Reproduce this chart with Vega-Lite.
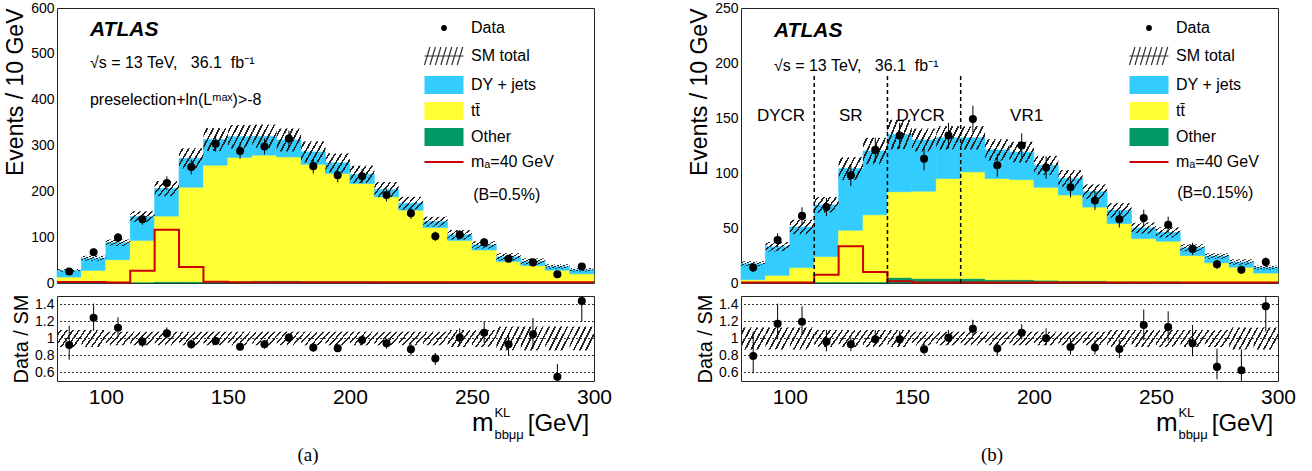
{
"$schema": "https://vega.github.io/schema/vega-lite/v6.json",
"padding": {"left": 4, "top": 0, "right": 5, "bottom": 2},
"config": {
  "font": "Liberation Sans",
  "view": {"stroke": "#222", "strokeWidth": 1},
  "axis": {"domain": false, "tickSize": 0, "grid": false, "minExtent": 0, "labelFont": "Liberation Sans", "titleFont": "Liberation Sans", "titleFontWeight": "normal", "labelColor": "#000", "titleColor": "#000", "tickColor": "#222", "labelOverlap": false, "labelFlush": false, "labelBound": false},
  "text": {"font": "Liberation Sans", "color": "#000"}
},
"datasets": {
  "stackA": [
    {"lo":80,"hi":90,"other":1,"tt":12,"dy":14.5},{"lo":90,"hi":100,"other":1,"tt":26.5,"dy":26.5},{"lo":100,"hi":110,"other":1,"tt":50,"dy":37},{"lo":110,"hi":120,"other":2,"tt":91,"dy":52},{"lo":120,"hi":130,"other":3,"tt":143,"dy":60},{"lo":130,"hi":140,"other":3,"tt":206,"dy":63},{"lo":140,"hi":150,"other":4,"tt":253,"dy":56},{"lo":150,"hi":160,"other":4,"tt":270,"dy":45},{"lo":160,"hi":170,"other":5,"tt":274,"dy":41},{"lo":170,"hi":180,"other":5,"tt":270,"dy":37},{"lo":180,"hi":190,"other":4,"tt":255,"dy":27},{"lo":190,"hi":200,"other":4,"tt":235,"dy":23},{"lo":200,"hi":210,"other":4,"tt":213,"dy":20},{"lo":210,"hi":220,"other":3,"tt":185,"dy":16},{"lo":220,"hi":230,"other":3,"tt":156,"dy":15},{"lo":230,"hi":240,"other":3,"tt":118,"dy":13},{"lo":240,"hi":250,"other":2,"tt":91,"dy":12},{"lo":250,"hi":260,"other":2,"tt":70,"dy":11},{"lo":260,"hi":270,"other":2,"tt":45,"dy":10},{"lo":270,"hi":280,"other":1,"tt":37,"dy":9},{"lo":280,"hi":290,"other":1,"tt":27,"dy":8},{"lo":290,"hi":300,"other":1,"tt":19,"dy":9}
  ],
  "stackB": [
    {"lo":80,"hi":90,"other":0.5,"tt":2.5,"dy":14.5},{"lo":90,"hi":100,"other":0.5,"tt":6.5,"dy":26},{"lo":100,"hi":110,"other":0.5,"tt":13.5,"dy":37},{"lo":110,"hi":120,"other":1,"tt":23,"dy":47},{"lo":120,"hi":130,"other":1,"tt":47,"dy":56},{"lo":130,"hi":140,"other":1,"tt":61,"dy":58},{"lo":140,"hi":150,"other":5,"tt":78,"dy":52},{"lo":150,"hi":160,"other":4,"tt":79.5,"dy":46.5},{"lo":160,"hi":170,"other":4,"tt":91,"dy":37},{"lo":170,"hi":180,"other":4,"tt":97,"dy":31},{"lo":180,"hi":190,"other":3,"tt":92,"dy":26},{"lo":190,"hi":200,"other":3,"tt":91,"dy":25},{"lo":200,"hi":210,"other":2.5,"tt":84.5,"dy":20},{"lo":210,"hi":220,"other":2,"tt":78,"dy":15},{"lo":220,"hi":230,"other":2,"tt":67,"dy":14},{"lo":230,"hi":240,"other":1.5,"tt":52.5,"dy":12},{"lo":240,"hi":250,"other":1.5,"tt":39,"dy":9.5},{"lo":250,"hi":260,"other":1.5,"tt":36.5,"dy":8},{"lo":260,"hi":270,"other":1,"tt":24,"dy":7},{"lo":270,"hi":280,"other":1,"tt":17.4,"dy":6.1},{"lo":280,"hi":290,"other":1,"tt":13.4,"dy":4.6},{"lo":290,"hi":300,"other":1,"tt":8,"dy":5}
  ],
  "smA": [
    {"lo":80,"hi":90,"sm_lo":24.75,"sm_hi":30.25,"r_lo":0.9,"r_hi":1.1},{"lo":90,"hi":100,"sm_lo":48.6,"sm_hi":59.4,"r_lo":0.9,"r_hi":1.1},{"lo":100,"hi":110,"sm_lo":81,"sm_hi":95,"r_lo":0.92,"r_hi":1.08},{"lo":110,"hi":120,"sm_lo":133.4,"sm_hi":156.6,"r_lo":0.92,"r_hi":1.08},{"lo":120,"hi":130,"sm_lo":189.5,"sm_hi":222.5,"r_lo":0.92,"r_hi":1.08},{"lo":130,"hi":140,"sm_lo":250.2,"sm_hi":293.8,"r_lo":0.92,"r_hi":1.08},{"lo":140,"hi":150,"sm_lo":288,"sm_hi":338,"r_lo":0.92,"r_hi":1.08},{"lo":150,"hi":160,"sm_lo":293.5,"sm_hi":344.5,"r_lo":0.92,"r_hi":1.08},{"lo":160,"hi":170,"sm_lo":294.4,"sm_hi":345.6,"r_lo":0.92,"r_hi":1.08},{"lo":170,"hi":180,"sm_lo":287,"sm_hi":337,"r_lo":0.92,"r_hi":1.08},{"lo":180,"hi":190,"sm_lo":263,"sm_hi":309,"r_lo":0.92,"r_hi":1.08},{"lo":190,"hi":200,"sm_lo":241,"sm_hi":283,"r_lo":0.92,"r_hi":1.08},{"lo":200,"hi":210,"sm_lo":218,"sm_hi":256,"r_lo":0.92,"r_hi":1.08},{"lo":210,"hi":220,"sm_lo":187.7,"sm_hi":220.3,"r_lo":0.92,"r_hi":1.08},{"lo":220,"hi":230,"sm_lo":160,"sm_hi":188,"r_lo":0.92,"r_hi":1.08},{"lo":230,"hi":240,"sm_lo":123.3,"sm_hi":144.7,"r_lo":0.92,"r_hi":1.08},{"lo":240,"hi":250,"sm_lo":94.5,"sm_hi":115.5,"r_lo":0.9,"r_hi":1.1},{"lo":250,"hi":260,"sm_lo":74.7,"sm_hi":91.3,"r_lo":0.9,"r_hi":1.1},{"lo":260,"hi":270,"sm_lo":49,"sm_hi":65,"r_lo":0.86,"r_hi":1.14},{"lo":270,"hi":280,"sm_lo":40.4,"sm_hi":53.6,"r_lo":0.86,"r_hi":1.14},{"lo":280,"hi":290,"sm_lo":31,"sm_hi":41,"r_lo":0.86,"r_hi":1.14},{"lo":290,"hi":300,"sm_lo":25,"sm_hi":33,"r_lo":0.86,"r_hi":1.14}
  ],
  "smB": [
    {"lo":80,"hi":90,"sm_lo":15.2,"sm_hi":19.8,"r_lo":0.87,"r_hi":1.13},{"lo":90,"hi":100,"sm_lo":28.7,"sm_hi":37.3,"r_lo":0.87,"r_hi":1.13},{"lo":100,"hi":110,"sm_lo":44.4,"sm_hi":57.6,"r_lo":0.87,"r_hi":1.13},{"lo":110,"hi":120,"sm_lo":63.9,"sm_hi":78.1,"r_lo":0.9,"r_hi":1.1},{"lo":120,"hi":130,"sm_lo":93.6,"sm_hi":114.4,"r_lo":0.9,"r_hi":1.1},{"lo":130,"hi":140,"sm_lo":108,"sm_hi":132,"r_lo":0.9,"r_hi":1.1},{"lo":140,"hi":150,"sm_lo":121.5,"sm_hi":148.5,"r_lo":0.9,"r_hi":1.1},{"lo":150,"hi":160,"sm_lo":119.6,"sm_hi":140.4,"r_lo":0.92,"r_hi":1.08},{"lo":160,"hi":170,"sm_lo":121.4,"sm_hi":142.6,"r_lo":0.92,"r_hi":1.08},{"lo":170,"hi":180,"sm_lo":121.4,"sm_hi":142.6,"r_lo":0.92,"r_hi":1.08},{"lo":180,"hi":190,"sm_lo":111.3,"sm_hi":130.7,"r_lo":0.92,"r_hi":1.08},{"lo":190,"hi":200,"sm_lo":109.5,"sm_hi":128.5,"r_lo":0.92,"r_hi":1.08},{"lo":200,"hi":210,"sm_lo":98.4,"sm_hi":115.6,"r_lo":0.92,"r_hi":1.08},{"lo":210,"hi":220,"sm_lo":87.4,"sm_hi":102.6,"r_lo":0.92,"r_hi":1.08},{"lo":220,"hi":230,"sm_lo":76.4,"sm_hi":89.6,"r_lo":0.92,"r_hi":1.08},{"lo":230,"hi":240,"sm_lo":59.4,"sm_hi":72.6,"r_lo":0.9,"r_hi":1.1},{"lo":240,"hi":250,"sm_lo":45,"sm_hi":55,"r_lo":0.9,"r_hi":1.1},{"lo":250,"hi":260,"sm_lo":41.4,"sm_hi":50.6,"r_lo":0.9,"r_hi":1.1},{"lo":260,"hi":270,"sm_lo":28.8,"sm_hi":35.2,"r_lo":0.9,"r_hi":1.1},{"lo":270,"hi":280,"sm_lo":22,"sm_hi":27,"r_lo":0.9,"r_hi":1.1},{"lo":280,"hi":290,"sm_lo":16.5,"sm_hi":21.5,"r_lo":0.87,"r_hi":1.13},{"lo":290,"hi":300,"sm_lo":12.2,"sm_hi":15.8,"r_lo":0.87,"r_hi":1.13}
  ],
  "dataA": [
    {"m":85,"n":25,"n_lo":20,"n_hi":30,"r":0.924,"r_lo":0.75,"r_hi":1.15},{"m":95,"n":67,"n_lo":58.8,"n_hi":75.2,"r":1.244,"r_lo":1.09,"r_hi":1.41},{"m":105,"n":99,"n_lo":89,"n_hi":109,"r":1.127,"r_lo":1.02,"r_hi":1.25},{"m":115,"n":139,"n_lo":127.2,"n_hi":150.8,"r":0.963,"r_lo":0.9,"r_hi":1.04},{"m":125,"n":218,"n_lo":203.2,"n_hi":232.8,"r":1.06,"r_lo":1.0,"r_hi":1.13},{"m":135,"n":253,"n_lo":237.1,"n_hi":268.9,"r":0.932,"r_lo":0.88,"r_hi":0.99},{"m":145,"n":304,"n_lo":286.6,"n_hi":321.4,"r":0.971,"r_lo":0.92,"r_hi":1.02},{"m":155,"n":288,"n_lo":271,"n_hi":305,"r":0.904,"r_lo":0.86,"r_hi":0.95},{"m":165,"n":298,"n_lo":280.7,"n_hi":315.3,"r":0.932,"r_lo":0.88,"r_hi":0.98},{"m":175,"n":315,"n_lo":297.3,"n_hi":332.7,"r":1.01,"r_lo":0.96,"r_hi":1.06},{"m":185,"n":255,"n_lo":239,"n_hi":271,"r":0.893,"r_lo":0.85,"r_hi":0.94},{"m":195,"n":235,"n_lo":219.7,"n_hi":250.3,"r":0.885,"r_lo":0.84,"r_hi":0.93},{"m":205,"n":233,"n_lo":217.7,"n_hi":248.3,"r":0.982,"r_lo":0.92,"r_hi":1.04},{"m":215,"n":192,"n_lo":178.1,"n_hi":205.9,"r":0.943,"r_lo":0.88,"r_hi":1.0},{"m":225,"n":152,"n_lo":139.7,"n_hi":164.3,"r":0.873,"r_lo":0.8,"r_hi":0.94},{"m":235,"n":102,"n_lo":91.9,"n_hi":112.1,"r":0.764,"r_lo":0.69,"r_hi":0.83},{"m":245,"n":105,"n_lo":94.8,"n_hi":115.2,"r":1.01,"r_lo":0.92,"r_hi":1.12},{"m":255,"n":89,"n_lo":79.6,"n_hi":98.4,"r":1.068,"r_lo":0.95,"r_hi":1.2},{"m":265,"n":53,"n_lo":45.7,"n_hi":60.3,"r":0.932,"r_lo":0.8,"r_hi":1.06},{"m":275,"n":45,"n_lo":38.3,"n_hi":51.7,"r":1.049,"r_lo":0.88,"r_hi":1.24},{"m":285,"n":19,"n_lo":14.6,"n_hi":23.4,"r":0.549,"r_lo":0.43,"r_hi":0.7},{"m":295,"n":36,"n_lo":30,"n_hi":42,"r":1.44,"r_lo":1.2,"r_hi":1.68}
  ],
  "dataB": [
    {"m":85,"n":14,"n_lo":10.3,"n_hi":17.7,"r":0.795,"r_lo":0.59,"r_hi":1.08},{"m":95,"n":39,"n_lo":32.8,"n_hi":45.2,"r":1.174,"r_lo":0.99,"r_hi":1.41},{"m":105,"n":61,"n_lo":53.2,"n_hi":68.8,"r":1.197,"r_lo":1.05,"r_hi":1.38},{"m":115,"n":69,"n_lo":60.7,"n_hi":77.3,"r":0.963,"r_lo":0.85,"r_hi":1.1},{"m":125,"n":98,"n_lo":88.1,"n_hi":107.9,"r":0.932,"r_lo":0.85,"r_hi":1.02},{"m":135,"n":121,"n_lo":110,"n_hi":132,"r":0.99,"r_lo":0.93,"r_hi":1.1},{"m":145,"n":134,"n_lo":122.4,"n_hi":145.6,"r":0.99,"r_lo":0.92,"r_hi":1.09},{"m":155,"n":113,"n_lo":102.4,"n_hi":123.6,"r":0.873,"r_lo":0.81,"r_hi":0.96},{"m":165,"n":134,"n_lo":122.4,"n_hi":145.6,"r":1.01,"r_lo":0.93,"r_hi":1.1},{"m":175,"n":149,"n_lo":136.8,"n_hi":161.2,"r":1.115,"r_lo":1.03,"r_hi":1.22},{"m":185,"n":107,"n_lo":96.7,"n_hi":117.3,"r":0.881,"r_lo":0.8,"r_hi":0.96},{"m":195,"n":125,"n_lo":113.8,"n_hi":136.2,"r":1.068,"r_lo":0.99,"r_hi":1.17},{"m":205,"n":105,"n_lo":94.8,"n_hi":115.2,"r":1.002,"r_lo":0.92,"r_hi":1.12},{"m":215,"n":87,"n_lo":77.7,"n_hi":96.3,"r":0.9,"r_lo":0.81,"r_hi":1.0},{"m":225,"n":75,"n_lo":66.3,"n_hi":83.7,"r":0.893,"r_lo":0.81,"r_hi":0.98},{"m":235,"n":58,"n_lo":50.4,"n_hi":65.6,"r":0.877,"r_lo":0.77,"r_hi":0.99},{"m":245,"n":59,"n_lo":51.3,"n_hi":66.7,"r":1.158,"r_lo":0.98,"r_hi":1.34},{"m":255,"n":53,"n_lo":45.7,"n_hi":60.3,"r":1.135,"r_lo":0.97,"r_hi":1.32},{"m":265,"n":31,"n_lo":25.4,"n_hi":36.6,"r":0.943,"r_lo":0.79,"r_hi":1.16},{"m":275,"n":17,"n_lo":12.9,"n_hi":21.1,"r":0.666,"r_lo":0.52,"r_hi":0.88},{"m":285,"n":12,"n_lo":8.5,"n_hi":15.5,"r":0.627,"r_lo":0.5,"r_hi":0.87},{"m":295,"n":19,"n_lo":14.6,"n_hi":23.4,"r":1.38,"r_lo":1.08,"r_hi":1.6}
  ],
  "sigA": [
    {"m":80,"s":2},{"m":90,"s":2},{"m":100,"s":1},{"m":110,"s":27},{"m":120,"s":116},{"m":130,"s":35},{"m":140,"s":3},{"m":150,"s":1.5},{"m":160,"s":1.5},{"m":170,"s":1.5},{"m":180,"s":1.5},{"m":190,"s":1.5},{"m":200,"s":1.5},{"m":210,"s":1.5},{"m":220,"s":1.5},{"m":230,"s":1.5},{"m":240,"s":1.5},{"m":250,"s":1.5},{"m":260,"s":1.5},{"m":270,"s":1.5},{"m":280,"s":1.5},{"m":290,"s":1.5},{"m":300,"s":1.5}
  ],
  "sigB": [
    {"m":80,"s":0.5},{"m":90,"s":0.5},{"m":100,"s":0.5},{"m":110,"s":7.4},{"m":120,"s":33.5},{"m":130,"s":10},{"m":140,"s":1.5},{"m":150,"s":0.5},{"m":160,"s":0.5},{"m":170,"s":0.5},{"m":180,"s":0.5},{"m":190,"s":0.5},{"m":200,"s":0.5},{"m":210,"s":0.5},{"m":220,"s":0.5},{"m":230,"s":0.5},{"m":240,"s":0.5},{"m":250,"s":0.5},{"m":260,"s":0.5},{"m":270,"s":0.5},{"m":280,"s":0.5},{"m":290,"s":0.5},{"m":300,"s":0.5}
  ],
  "regions": [{"m":110},{"m":140},{"m":170}],
  "grid": [{"g":0.6},{"g":0.8},{"g":1.0},{"g":1.2},{"g":1.4}]
},
"spacing": 75,
"resolve": {"scale": {"color": "independent", "stroke": "independent"}, "legend": {"color": "independent"}},
"hconcat": [
 {
  "title": {"text": "(a)", "orient": "bottom", "font": "Liberation Serif", "fontSize": 19, "fontWeight": "normal", "anchor": "middle", "offset": 4},
  "spacing": -3,
  "vconcat": [
   {
    "width": 537, "height": 275,
    "resolve": {"axis": {"x": "independent", "y": "independent"}},
    "layer": [
     {
      "data": {"name": "stackA"},
      "transform": [{"fold": ["other", "tt", "dy"], "as": ["process", "events"]}, {"stack": "events", "groupby": ["lo"], "as": ["y0", "y1"]}],
      "mark": {"type": "bar", "strokeWidth": 0.6},
      "encoding": {
        "x": {"field": "lo", "type": "quantitative", "scale": {"domain": [80, 300], "nice": false, "zero": false},
              "axis": {"orient": "bottom", "title": null, "labels": false, "values": [80,90,100,110,120,130,140,150,160,170,180,190,200,210,220,230,240,250,260,270,280,290,300],
                       "encode": {"ticks": {"update": {"y2": {"signal": "datum.value % 50 === 0 ? -11 : -6"}}}}}},
        "x2": {"field": "hi"},
        "y": {"field": "y1", "type": "quantitative", "scale": {"domain": [0, 600], "nice": false},
              "axis": {"orient": "left", "title": "Events / 10 GeV", "titleAnchor": "end", "titleFontSize": 23, "titlePadding": 3, "labelFontSize": 14, "labelPadding": 3,
                       "values": [0,20,40,60,80,100,120,140,160,180,200,220,240,260,280,300,320,340,360,380,400,420,440,460,480,500,520,540,560,580,600],
                       "labelExpr": "datum.value % 100 === 0 ? datum.label : ''",
                       "encode": {"ticks": {"update": {"x2": {"signal": "datum.value % 100 === 0 ? 12 : 6"}}}}}},
        "y2": {"field": "y0"},
        "color": {"field": "process", "type": "nominal",
                  "scale": {"domain": ["data", "sm", "dy", "tt", "other", "sig"], "range": ["#000000", "#9aa3ad", "#33ccff", "#ffff33", "#009966", "#cc0000"]},
                  "legend": {"orient": "none", "legendX": 379, "legendY": 12, "title": null, "labelFontSize": 16, "labelFont": "Liberation Sans", "labelColor": "#000", "labelOffset": 19, "rowPadding": 8, "symbolSize": 1521,
                             "labelExpr": "datum.label === 'data' ? 'Data' : datum.label === 'sm' ? 'SM total' : datum.label === 'dy' ? 'DY + jets' : datum.label === 'tt' ? 'tt̄' : datum.label === 'other' ? 'Other' : 'mₐ=40 GeV'",
                             "encode": {"symbols": {"update": {
                               "shape": {"signal": "datum.value === 'data' ? 'circle' : datum.value === 'sig' ? 'stroke' : datum.value === 'sm' ? 'M-1,0.46L-0.72,-0.46M-0.72,0.46L-0.44,-0.46M-0.44,0.46L-0.16,-0.46M-0.16,0.46L0.12,-0.46M0.12,0.46L0.4,-0.46M0.4,0.46L0.68,-0.46M0.68,0.46L0.96,-0.46M-1,0H1' : 'M-1,-0.46H1V0.46H-1Z'"},
                               "size": {"signal": "datum.value === 'data' ? 34 : 1521"},
                               "fill": {"signal": "datum.value === 'data' ? '#000' : datum.value === 'dy' ? '#33ccff' : datum.value === 'tt' ? '#ffff33' : datum.value === 'other' ? '#009966' : 'transparent'"},
                               "stroke": {"signal": "datum.value === 'sig' ? '#cc0000' : datum.value === 'sm' ? '#333' : 'transparent'"},
                               "strokeWidth": {"signal": "datum.value === 'sig' ? 2 : datum.value === 'sm' ? 1.2 : 0"}
                             }}}}},
        "stroke": {"field": "process", "type": "nominal", "scale": {"domain": ["dy", "tt", "other"], "range": ["#33ccff", "#ffff33", "#009966"]}, "legend": null}
      }
     },
     {
      "data": {"name": "smA"},
      "mark": {"type": "rect", "fill": {"gradient": "linear", "x1": 0, "y1": 0, "x2": 1, "y2": 0.5, "stops": [{"offset": 0, "color": "rgba(0,0,0,0)"}, {"offset": 0.1, "color": "rgba(0,0,0,0)"}, {"offset": 0.1, "color": "#222"}, {"offset": 0.16, "color": "#222"}, {"offset": 0.16, "color": "rgba(0,0,0,0)"}, {"offset": 0.3, "color": "rgba(0,0,0,0)"}, {"offset": 0.3, "color": "#222"}, {"offset": 0.36, "color": "#222"}, {"offset": 0.36, "color": "rgba(0,0,0,0)"}, {"offset": 0.5, "color": "rgba(0,0,0,0)"}, {"offset": 0.5, "color": "#222"}, {"offset": 0.56, "color": "#222"}, {"offset": 0.56, "color": "rgba(0,0,0,0)"}, {"offset": 0.7, "color": "rgba(0,0,0,0)"}, {"offset": 0.7, "color": "#222"}, {"offset": 0.76, "color": "#222"}, {"offset": 0.76, "color": "rgba(0,0,0,0)"}, {"offset": 0.9, "color": "rgba(0,0,0,0)"}, {"offset": 0.9, "color": "#222"}, {"offset": 0.96, "color": "#222"}, {"offset": 0.96, "color": "rgba(0,0,0,0)"}, {"offset": 1, "color": "rgba(0,0,0,0)"}]}},
      "encoding": {
        "x": {"field": "lo", "type": "quantitative", "scale": {"domain": [80, 300], "nice": false, "zero": false},
              "axis": {"orient": "top", "title": null, "labels": false, "values": [80,90,100,110,120,130,140,150,160,170,180,190,200,210,220,230,240,250,260,270,280,290,300],
                       "encode": {"ticks": {"update": {"y2": {"signal": "datum.value % 50 === 0 ? 11 : 6"}}}}}},
        "x2": {"field": "hi"},
        "y": {"field": "sm_lo", "type": "quantitative", "scale": {"domain": [0, 600], "nice": false},
              "axis": {"orient": "right", "title": null, "labels": false,
                       "values": [0,20,40,60,80,100,120,140,160,180,200,220,240,260,280,300,320,340,360,380,400,420,440,460,480,500,520,540,560,580,600],
                       "encode": {"ticks": {"update": {"x2": {"signal": "datum.value % 100 === 0 ? -12 : -6"}}}}}},
        "y2": {"field": "sm_hi"}
      }
     },
     {
      "data": {"name": "sigA"},
      "mark": {"type": "line", "interpolate": "step-after", "color": "#cc0000", "strokeWidth": 2},
      "encoding": {"x": {"field": "m", "type": "quantitative", "axis": null}, "y": {"field": "s", "type": "quantitative", "axis": null}}
     },
     {
      "data": {"name": "dataA"},
      "mark": {"type": "rule", "color": "#000", "strokeWidth": 1},
      "encoding": {"x": {"field": "m", "type": "quantitative", "axis": null}, "y": {"field": "n_lo", "type": "quantitative", "axis": null}, "y2": {"field": "n_hi"}}
     },
     {
      "data": {"name": "dataA"},
      "mark": {"type": "circle", "color": "#000", "size": 65, "opacity": 1},
      "encoding": {"x": {"field": "m", "type": "quantitative", "axis": null}, "y": {"field": "n", "type": "quantitative", "axis": null}}
     },
     {
      "data": {"values": [{}]},
      "mark": {"type": "text", "text": "ATLAS", "fontSize": 21, "fontWeight": "bold", "fontStyle": "italic", "align": "left", "baseline": "middle"},
      "encoding": {"x": {"datum": 93.5, "type": "quantitative", "axis": null}, "y": {"datum": 552, "type": "quantitative", "axis": null}}
     },
     {
      "data": {"values": [{}]},
      "mark": {"type": "text", "text": "√s = 13 TeV,\u00a0\u00a0 36.1\u00a0 fb⁻¹", "fontSize": 16, "align": "left", "baseline": "middle"},
      "encoding": {"x": {"datum": 93.5, "type": "quantitative", "axis": null}, "y": {"datum": 480, "type": "quantitative", "axis": null}}
     },
     {
      "data": {"values": [{}]},
      "mark": {"type": "text", "text": "preselection+ln(Lᵐᵃˣ)>-8", "fontSize": 16, "align": "left", "baseline": "middle"},
      "encoding": {"x": {"datum": 93.5, "type": "quantitative", "axis": null}, "y": {"datum": 399, "type": "quantitative", "axis": null}}
     },
     {
      "data": {"values": [{}]},
      "mark": {"type": "text", "text": "(B=0.5%)", "fontSize": 16, "align": "left", "baseline": "middle"},
      "encoding": {"x": {"datum": 250.5, "type": "quantitative", "axis": null}, "y": {"datum": 192, "type": "quantitative", "axis": null}}
     }
    ]
   },
   {
    "width": 537, "height": 85,
    "resolve": {"axis": {"x": "independent", "y": "independent"}},
    "layer": [
     {
      "data": {"name": "smA"},
      "mark": {"type": "rect", "fill": {"gradient": "linear", "x1": 0, "y1": 0, "x2": 1, "y2": 0.5, "stops": [{"offset": 0, "color": "rgba(0,0,0,0)"}, {"offset": 0.1, "color": "rgba(0,0,0,0)"}, {"offset": 0.1, "color": "#222"}, {"offset": 0.16, "color": "#222"}, {"offset": 0.16, "color": "rgba(0,0,0,0)"}, {"offset": 0.3, "color": "rgba(0,0,0,0)"}, {"offset": 0.3, "color": "#222"}, {"offset": 0.36, "color": "#222"}, {"offset": 0.36, "color": "rgba(0,0,0,0)"}, {"offset": 0.5, "color": "rgba(0,0,0,0)"}, {"offset": 0.5, "color": "#222"}, {"offset": 0.56, "color": "#222"}, {"offset": 0.56, "color": "rgba(0,0,0,0)"}, {"offset": 0.7, "color": "rgba(0,0,0,0)"}, {"offset": 0.7, "color": "#222"}, {"offset": 0.76, "color": "#222"}, {"offset": 0.76, "color": "rgba(0,0,0,0)"}, {"offset": 0.9, "color": "rgba(0,0,0,0)"}, {"offset": 0.9, "color": "#222"}, {"offset": 0.96, "color": "#222"}, {"offset": 0.96, "color": "rgba(0,0,0,0)"}, {"offset": 1, "color": "rgba(0,0,0,0)"}]}},
      "encoding": {
        "x": {"field": "lo", "type": "quantitative", "scale": {"domain": [80, 300], "nice": false, "zero": false},
              "axis": {"orient": "bottom", "title": null, "labelFontSize": 21, "labelPadding": 5, "values": [80,90,100,110,120,130,140,150,160,170,180,190,200,210,220,230,240,250,260,270,280,290,300],
                       "labelExpr": "datum.value % 50 === 0 ? datum.label : ''",
                       "encode": {"ticks": {"update": {"y2": {"signal": "datum.value % 50 === 0 ? -10 : -5"}}}}}},
        "x2": {"field": "hi"},
        "y": {"field": "r_lo", "type": "quantitative", "scale": {"domain": [0.5, 1.5], "nice": false, "zero": false},
              "axis": {"orient": "left", "title": "Data / SM", "titleFontSize": 20, "titlePadding": 3, "labelFontSize": 14, "labelPadding": 3,
                       "values": [0.5,0.55,0.6,0.65,0.7,0.75,0.8,0.85,0.9,0.95,1,1.05,1.1,1.15,1.2,1.25,1.3,1.35,1.4,1.45,1.5],
                       "labelExpr": "abs(datum.value*5 - round(datum.value*5)) < 0.001 && datum.value > 0.55 && datum.value < 1.45 ? format(datum.value, '.1~f') : ''",
                       "encode": {"ticks": {"update": {"x2": {"signal": "abs(datum.value*5 - round(datum.value*5)) < 0.001 ? 10 : 5"}}}}}},
        "y2": {"field": "r_hi"}
      }
     },
     {
      "data": {"name": "grid"},
      "mark": {"type": "rule", "color": "#333", "strokeWidth": 1, "strokeDash": [2, 2]},
      "encoding": {"y": {"field": "g", "type": "quantitative", "axis": null}}
     },
     {
      "data": {"name": "dataA"},
      "mark": {"type": "rule", "color": "#000", "strokeWidth": 1, "clip": true},
      "encoding": {"x": {"field": "m", "type": "quantitative", "axis": null}, "y": {"field": "r_lo", "type": "quantitative", "axis": null}, "y2": {"field": "r_hi"}}
     },
     {
      "data": {"name": "dataA"},
      "mark": {"type": "circle", "color": "#000", "size": 65, "opacity": 1},
      "encoding": {
        "x": {"field": "m", "type": "quantitative",
              "axis": {"orient": "top", "title": null, "labels": false, "values": [80,90,100,110,120,130,140,150,160,170,180,190,200,210,220,230,240,250,260,270,280,290,300],
                       "encode": {"ticks": {"update": {"y2": {"signal": "datum.value % 50 === 0 ? 10 : 5"}}}}}},
        "y": {"field": "r", "type": "quantitative",
              "axis": {"orient": "right", "title": null, "labels": false,
                       "values": [0.5,0.55,0.6,0.65,0.7,0.75,0.8,0.85,0.9,0.95,1,1.05,1.1,1.15,1.2,1.25,1.3,1.35,1.4,1.45,1.5],
                       "encode": {"ticks": {"update": {"x2": {"signal": "abs(datum.value*5 - round(datum.value*5)) < 0.001 ? -10 : -5"}}}}}}
      }
     },
     {
      "data": {"values": [{}]},
      "mark": {"type": "text", "text": "m", "fontSize": 26, "align": "left", "baseline": "alphabetic"},
      "encoding": {"x": {"datum": 250, "type": "quantitative", "axis": null}, "y": {"datum": -0.088, "type": "quantitative", "axis": null}}
     },
     {
      "data": {"values": [{}]},
      "mark": {"type": "text", "text": "KL", "fontSize": 13, "align": "left", "baseline": "alphabetic"},
      "encoding": {"x": {"datum": 259.2, "type": "quantitative", "axis": null}, "y": {"datum": 0.08, "type": "quantitative", "axis": null}}
     },
     {
      "data": {"values": [{}]},
      "mark": {"type": "text", "text": "bbμμ", "fontSize": 13, "align": "left", "baseline": "alphabetic"},
      "encoding": {"x": {"datum": 259.2, "type": "quantitative", "axis": null}, "y": {"datum": -0.18, "type": "quantitative", "axis": null}}
     },
     {
      "data": {"values": [{}]},
      "mark": {"type": "text", "text": "[GeV]", "fontSize": 24, "align": "right", "baseline": "alphabetic"},
      "encoding": {"x": {"datum": 298, "type": "quantitative", "axis": null}, "y": {"datum": -0.088, "type": "quantitative", "axis": null}}
     }
    ]
   }
  ]
 },
 {
  "title": {"text": "(b)", "orient": "bottom", "font": "Liberation Serif", "fontSize": 19, "fontWeight": "normal", "anchor": "middle", "offset": 4},
  "spacing": -3,
  "vconcat": [
   {
    "width": 537, "height": 275,
    "resolve": {"axis": {"x": "independent", "y": "independent"}},
    "layer": [
     {
      "data": {"name": "stackB"},
      "transform": [{"fold": ["other", "tt", "dy"], "as": ["process", "events"]}, {"stack": "events", "groupby": ["lo"], "as": ["y0", "y1"]}],
      "mark": {"type": "bar", "strokeWidth": 0.6},
      "encoding": {
        "x": {"field": "lo", "type": "quantitative", "scale": {"domain": [80, 300], "nice": false, "zero": false},
              "axis": {"orient": "bottom", "title": null, "labels": false, "values": [80,90,100,110,120,130,140,150,160,170,180,190,200,210,220,230,240,250,260,270,280,290,300],
                       "encode": {"ticks": {"update": {"y2": {"signal": "datum.value % 50 === 0 ? -11 : -6"}}}}}},
        "x2": {"field": "hi"},
        "y": {"field": "y1", "type": "quantitative", "scale": {"domain": [0, 250], "nice": false},
              "axis": {"orient": "left", "title": "Events / 10 GeV", "titleAnchor": "end", "titleFontSize": 23, "titlePadding": 3, "labelFontSize": 14, "labelPadding": 3,
                       "values": [0,10,20,30,40,50,60,70,80,90,100,110,120,130,140,150,160,170,180,190,200,210,220,230,240,250],
                       "labelExpr": "datum.value % 50 === 0 ? datum.label : ''",
                       "encode": {"ticks": {"update": {"x2": {"signal": "datum.value % 50 === 0 ? 12 : 6"}}}}}},
        "y2": {"field": "y0"},
        "color": {"field": "process", "type": "nominal",
                  "scale": {"domain": ["data", "sm", "dy", "tt", "other", "sig"], "range": ["#000000", "#9aa3ad", "#33ccff", "#ffff33", "#009966", "#cc0000"]},
                  "legend": {"orient": "none", "legendX": 400, "legendY": 12, "title": null, "labelFontSize": 16, "labelFont": "Liberation Sans", "labelColor": "#000", "labelOffset": 19, "rowPadding": 8, "symbolSize": 1521,
                             "labelExpr": "datum.label === 'data' ? 'Data' : datum.label === 'sm' ? 'SM total' : datum.label === 'dy' ? 'DY + jets' : datum.label === 'tt' ? 'tt̄' : datum.label === 'other' ? 'Other' : 'mₐ=40 GeV'",
                             "encode": {"symbols": {"update": {
                               "shape": {"signal": "datum.value === 'data' ? 'circle' : datum.value === 'sig' ? 'stroke' : datum.value === 'sm' ? 'M-1,0.46L-0.72,-0.46M-0.72,0.46L-0.44,-0.46M-0.44,0.46L-0.16,-0.46M-0.16,0.46L0.12,-0.46M0.12,0.46L0.4,-0.46M0.4,0.46L0.68,-0.46M0.68,0.46L0.96,-0.46M-1,0H1' : 'M-1,-0.46H1V0.46H-1Z'"},
                               "size": {"signal": "datum.value === 'data' ? 34 : 1521"},
                               "fill": {"signal": "datum.value === 'data' ? '#000' : datum.value === 'dy' ? '#33ccff' : datum.value === 'tt' ? '#ffff33' : datum.value === 'other' ? '#009966' : 'transparent'"},
                               "stroke": {"signal": "datum.value === 'sig' ? '#cc0000' : datum.value === 'sm' ? '#333' : 'transparent'"},
                               "strokeWidth": {"signal": "datum.value === 'sig' ? 2 : datum.value === 'sm' ? 1.2 : 0"}
                             }}}}},
        "stroke": {"field": "process", "type": "nominal", "scale": {"domain": ["dy", "tt", "other"], "range": ["#33ccff", "#ffff33", "#009966"]}, "legend": null}
      }
     },
     {
      "data": {"name": "smB"},
      "mark": {"type": "rect", "fill": {"gradient": "linear", "x1": 0, "y1": 0, "x2": 1, "y2": 0.5, "stops": [{"offset": 0, "color": "rgba(0,0,0,0)"}, {"offset": 0.1, "color": "rgba(0,0,0,0)"}, {"offset": 0.1, "color": "#222"}, {"offset": 0.16, "color": "#222"}, {"offset": 0.16, "color": "rgba(0,0,0,0)"}, {"offset": 0.3, "color": "rgba(0,0,0,0)"}, {"offset": 0.3, "color": "#222"}, {"offset": 0.36, "color": "#222"}, {"offset": 0.36, "color": "rgba(0,0,0,0)"}, {"offset": 0.5, "color": "rgba(0,0,0,0)"}, {"offset": 0.5, "color": "#222"}, {"offset": 0.56, "color": "#222"}, {"offset": 0.56, "color": "rgba(0,0,0,0)"}, {"offset": 0.7, "color": "rgba(0,0,0,0)"}, {"offset": 0.7, "color": "#222"}, {"offset": 0.76, "color": "#222"}, {"offset": 0.76, "color": "rgba(0,0,0,0)"}, {"offset": 0.9, "color": "rgba(0,0,0,0)"}, {"offset": 0.9, "color": "#222"}, {"offset": 0.96, "color": "#222"}, {"offset": 0.96, "color": "rgba(0,0,0,0)"}, {"offset": 1, "color": "rgba(0,0,0,0)"}]}},
      "encoding": {
        "x": {"field": "lo", "type": "quantitative", "scale": {"domain": [80, 300], "nice": false, "zero": false},
              "axis": {"orient": "top", "title": null, "labels": false, "values": [80,90,100,110,120,130,140,150,160,170,180,190,200,210,220,230,240,250,260,270,280,290,300],
                       "encode": {"ticks": {"update": {"y2": {"signal": "datum.value % 50 === 0 ? 11 : 6"}}}}}},
        "x2": {"field": "hi"},
        "y": {"field": "sm_lo", "type": "quantitative", "scale": {"domain": [0, 250], "nice": false},
              "axis": {"orient": "right", "title": null, "labels": false,
                       "values": [0,10,20,30,40,50,60,70,80,90,100,110,120,130,140,150,160,170,180,190,200,210,220,230,240,250],
                       "encode": {"ticks": {"update": {"x2": {"signal": "datum.value % 50 === 0 ? -12 : -6"}}}}}},
        "y2": {"field": "sm_hi"}
      }
     },
     {
      "data": {"name": "sigB"},
      "mark": {"type": "line", "interpolate": "step-after", "color": "#cc0000", "strokeWidth": 2},
      "encoding": {"x": {"field": "m", "type": "quantitative", "axis": null}, "y": {"field": "s", "type": "quantitative", "axis": null}}
     },
     {
      "data": {"name": "regions"},
      "mark": {"type": "rule", "color": "#000", "strokeWidth": 1.5, "strokeDash": [4, 3]},
      "encoding": {"x": {"field": "m", "type": "quantitative", "axis": null}, "y": {"datum": 0, "type": "quantitative", "axis": null}, "y2": {"datum": 190}}
     },
     {
      "data": {"name": "dataB"},
      "mark": {"type": "rule", "color": "#000", "strokeWidth": 1},
      "encoding": {"x": {"field": "m", "type": "quantitative", "axis": null}, "y": {"field": "n_lo", "type": "quantitative", "axis": null}, "y2": {"field": "n_hi"}}
     },
     {
      "data": {"name": "dataB"},
      "mark": {"type": "circle", "color": "#000", "size": 65, "opacity": 1},
      "encoding": {"x": {"field": "m", "type": "quantitative", "axis": null}, "y": {"field": "n", "type": "quantitative", "axis": null}}
     },
     {
      "data": {"values": [{}]},
      "mark": {"type": "text", "text": "ATLAS", "fontSize": 21, "fontWeight": "bold", "fontStyle": "italic", "align": "left", "baseline": "middle"},
      "encoding": {"x": {"datum": 93.5, "type": "quantitative", "axis": null}, "y": {"datum": 229, "type": "quantitative", "axis": null}}
     },
     {
      "data": {"values": [{}]},
      "mark": {"type": "text", "text": "√s = 13 TeV,\u00a0\u00a0 36.1\u00a0 fb⁻¹", "fontSize": 16, "align": "left", "baseline": "middle"},
      "encoding": {"x": {"datum": 93.5, "type": "quantitative", "axis": null}, "y": {"datum": 197, "type": "quantitative", "axis": null}}
     },
     {
      "data": {"values": [{}]},
      "mark": {"type": "text", "text": "DYCR", "fontSize": 17, "align": "center", "baseline": "middle"},
      "encoding": {"x": {"datum": 96.4, "type": "quantitative", "axis": null}, "y": {"datum": 152, "type": "quantitative", "axis": null}}
     },
     {
      "data": {"values": [{}]},
      "mark": {"type": "text", "text": "SR", "fontSize": 17, "align": "center", "baseline": "middle"},
      "encoding": {"x": {"datum": 125, "type": "quantitative", "axis": null}, "y": {"datum": 152, "type": "quantitative", "axis": null}}
     },
     {
      "data": {"values": [{}]},
      "mark": {"type": "text", "text": "DYCR", "fontSize": 17, "align": "center", "baseline": "middle"},
      "encoding": {"x": {"datum": 153.6, "type": "quantitative", "axis": null}, "y": {"datum": 152, "type": "quantitative", "axis": null}}
     },
     {
      "data": {"values": [{}]},
      "mark": {"type": "text", "text": "VR1", "fontSize": 17, "align": "center", "baseline": "middle"},
      "encoding": {"x": {"datum": 197, "type": "quantitative", "axis": null}, "y": {"datum": 152, "type": "quantitative", "axis": null}}
     },
     {
      "data": {"values": [{}]},
      "mark": {"type": "text", "text": "(B=0.15%)", "fontSize": 16, "align": "left", "baseline": "middle"},
      "encoding": {"x": {"datum": 258.7, "type": "quantitative", "axis": null}, "y": {"datum": 82, "type": "quantitative", "axis": null}}
     }
    ]
   },
   {
    "width": 537, "height": 85,
    "resolve": {"axis": {"x": "independent", "y": "independent"}},
    "layer": [
     {
      "data": {"name": "smB"},
      "mark": {"type": "rect", "fill": {"gradient": "linear", "x1": 0, "y1": 0, "x2": 1, "y2": 0.5, "stops": [{"offset": 0, "color": "rgba(0,0,0,0)"}, {"offset": 0.1, "color": "rgba(0,0,0,0)"}, {"offset": 0.1, "color": "#222"}, {"offset": 0.16, "color": "#222"}, {"offset": 0.16, "color": "rgba(0,0,0,0)"}, {"offset": 0.3, "color": "rgba(0,0,0,0)"}, {"offset": 0.3, "color": "#222"}, {"offset": 0.36, "color": "#222"}, {"offset": 0.36, "color": "rgba(0,0,0,0)"}, {"offset": 0.5, "color": "rgba(0,0,0,0)"}, {"offset": 0.5, "color": "#222"}, {"offset": 0.56, "color": "#222"}, {"offset": 0.56, "color": "rgba(0,0,0,0)"}, {"offset": 0.7, "color": "rgba(0,0,0,0)"}, {"offset": 0.7, "color": "#222"}, {"offset": 0.76, "color": "#222"}, {"offset": 0.76, "color": "rgba(0,0,0,0)"}, {"offset": 0.9, "color": "rgba(0,0,0,0)"}, {"offset": 0.9, "color": "#222"}, {"offset": 0.96, "color": "#222"}, {"offset": 0.96, "color": "rgba(0,0,0,0)"}, {"offset": 1, "color": "rgba(0,0,0,0)"}]}},
      "encoding": {
        "x": {"field": "lo", "type": "quantitative", "scale": {"domain": [80, 300], "nice": false, "zero": false},
              "axis": {"orient": "bottom", "title": null, "labelFontSize": 21, "labelPadding": 5, "values": [80,90,100,110,120,130,140,150,160,170,180,190,200,210,220,230,240,250,260,270,280,290,300],
                       "labelExpr": "datum.value % 50 === 0 ? datum.label : ''",
                       "encode": {"ticks": {"update": {"y2": {"signal": "datum.value % 50 === 0 ? -10 : -5"}}}}}},
        "x2": {"field": "hi"},
        "y": {"field": "r_lo", "type": "quantitative", "scale": {"domain": [0.5, 1.5], "nice": false, "zero": false},
              "axis": {"orient": "left", "title": "Data / SM", "titleFontSize": 20, "titlePadding": 3, "labelFontSize": 14, "labelPadding": 3,
                       "values": [0.5,0.55,0.6,0.65,0.7,0.75,0.8,0.85,0.9,0.95,1,1.05,1.1,1.15,1.2,1.25,1.3,1.35,1.4,1.45,1.5],
                       "labelExpr": "abs(datum.value*5 - round(datum.value*5)) < 0.001 && datum.value > 0.55 && datum.value < 1.45 ? format(datum.value, '.1~f') : ''",
                       "encode": {"ticks": {"update": {"x2": {"signal": "abs(datum.value*5 - round(datum.value*5)) < 0.001 ? 10 : 5"}}}}}},
        "y2": {"field": "r_hi"}
      }
     },
     {
      "data": {"name": "grid"},
      "mark": {"type": "rule", "color": "#333", "strokeWidth": 1, "strokeDash": [2, 2]},
      "encoding": {"y": {"field": "g", "type": "quantitative", "axis": null}}
     },
     {
      "data": {"name": "dataB"},
      "mark": {"type": "rule", "color": "#000", "strokeWidth": 1, "clip": true},
      "encoding": {"x": {"field": "m", "type": "quantitative", "axis": null}, "y": {"field": "r_lo", "type": "quantitative", "axis": null}, "y2": {"field": "r_hi"}}
     },
     {
      "data": {"name": "dataB"},
      "mark": {"type": "circle", "color": "#000", "size": 65, "opacity": 1},
      "encoding": {
        "x": {"field": "m", "type": "quantitative",
              "axis": {"orient": "top", "title": null, "labels": false, "values": [80,90,100,110,120,130,140,150,160,170,180,190,200,210,220,230,240,250,260,270,280,290,300],
                       "encode": {"ticks": {"update": {"y2": {"signal": "datum.value % 50 === 0 ? 10 : 5"}}}}}},
        "y": {"field": "r", "type": "quantitative",
              "axis": {"orient": "right", "title": null, "labels": false,
                       "values": [0.5,0.55,0.6,0.65,0.7,0.75,0.8,0.85,0.9,0.95,1,1.05,1.1,1.15,1.2,1.25,1.3,1.35,1.4,1.45,1.5],
                       "encode": {"ticks": {"update": {"x2": {"signal": "abs(datum.value*5 - round(datum.value*5)) < 0.001 ? -10 : -5"}}}}}}
      }
     },
     {
      "data": {"values": [{}]},
      "mark": {"type": "text", "text": "m", "fontSize": 26, "align": "left", "baseline": "alphabetic"},
      "encoding": {"x": {"datum": 250, "type": "quantitative", "axis": null}, "y": {"datum": -0.088, "type": "quantitative", "axis": null}}
     },
     {
      "data": {"values": [{}]},
      "mark": {"type": "text", "text": "KL", "fontSize": 13, "align": "left", "baseline": "alphabetic"},
      "encoding": {"x": {"datum": 259.2, "type": "quantitative", "axis": null}, "y": {"datum": 0.08, "type": "quantitative", "axis": null}}
     },
     {
      "data": {"values": [{}]},
      "mark": {"type": "text", "text": "bbμμ", "fontSize": 13, "align": "left", "baseline": "alphabetic"},
      "encoding": {"x": {"datum": 259.2, "type": "quantitative", "axis": null}, "y": {"datum": -0.18, "type": "quantitative", "axis": null}}
     },
     {
      "data": {"values": [{}]},
      "mark": {"type": "text", "text": "[GeV]", "fontSize": 24, "align": "right", "baseline": "alphabetic"},
      "encoding": {"x": {"datum": 298, "type": "quantitative", "axis": null}, "y": {"datum": -0.088, "type": "quantitative", "axis": null}}
     }
    ]
   }
  ]
 }
]
}
